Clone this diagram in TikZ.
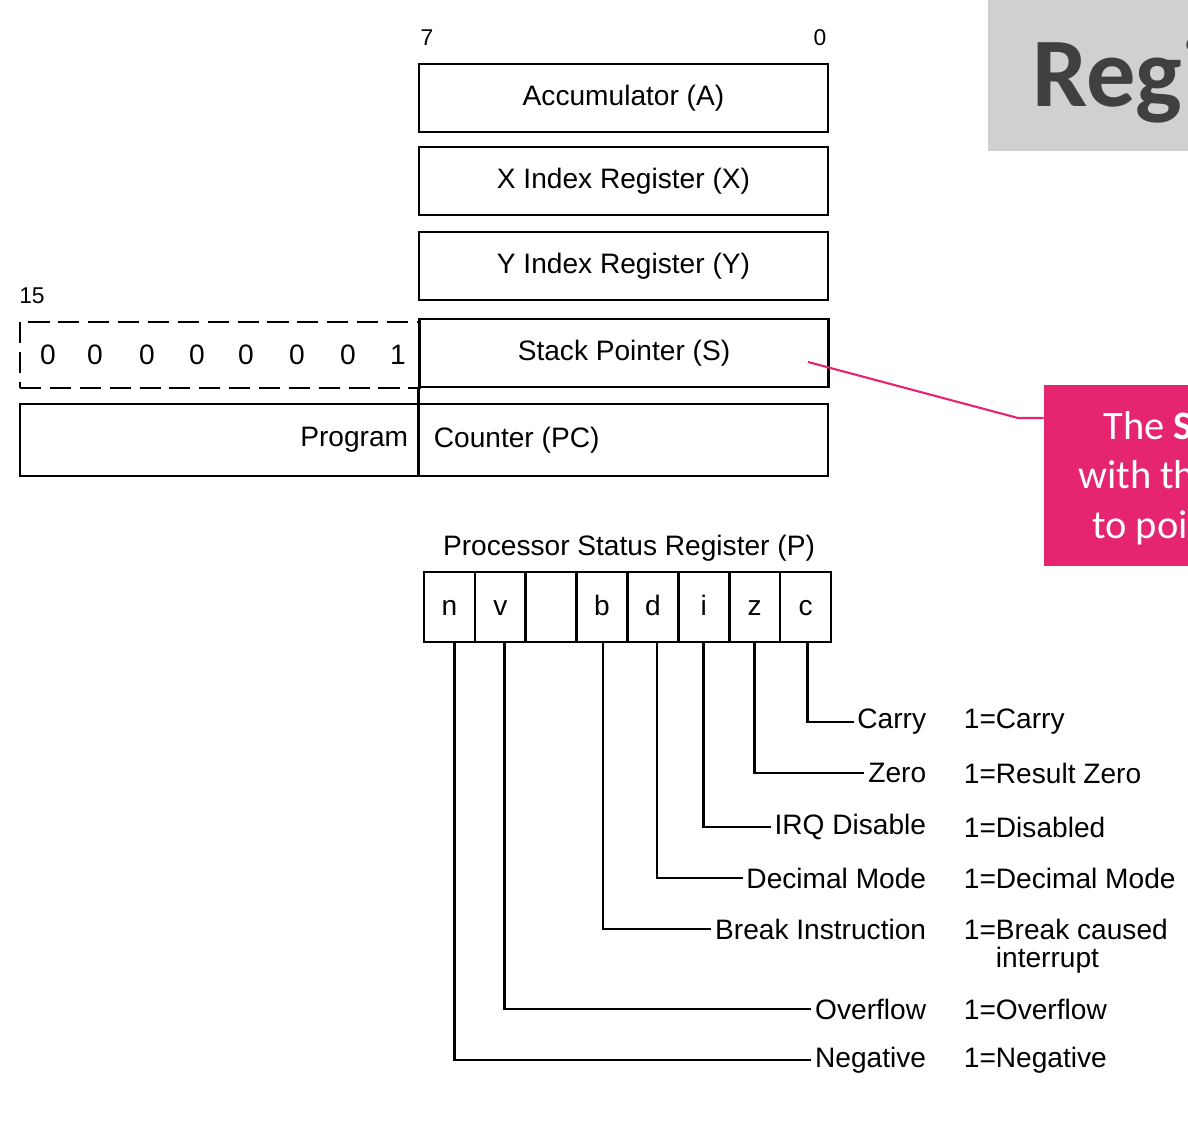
\documentclass[tikz,border=0pt]{standalone}
\usepackage{fontspec}
\setmainfont{Liberation Sans}
\newfontfamily\folienfont{Carlito}
\definecolor{folienpink}{RGB}{229,37,112}
\definecolor{titelgrau}{RGB}{208,207,209}
\definecolor{titeltext}{RGB}{64,64,64}

\begin{document}
\begin{tikzpicture}[x=0.02cm, y=-0.02cm,
    txt/.style={inner sep=2pt, font=\fontsize{16}{19}\selectfont},
    klein/.style={inner sep=0pt, font=\fontsize{13}{15}\selectfont},
    reg/.style={txt, draw, line width=1.6pt, minimum width=8.18cm, minimum height=1.36cm},
    bit/.style={txt, draw, line width=1.5pt, minimum width=1.0175cm, minimum height=1.4cm, text height=10pt, text depth=0pt}]
    \useasboundingbox (0,0) rectangle (1188,1146);
    \clip (0,0) rectangle (1188,1146);

    % Folientitel
    \node[fill=titelgrau, minimum width=4cm, minimum height=3.02cm, inner sep=0pt] (titel) at (1088,75.5) {};
    \node[anchor=base west, inner sep=0pt, text=titeltext, font=\folienfont\bfseries\fontsize{56}{62}\selectfont] (reg) at (1032,106) {Regi};

    % Bitnummern
    \node[klein] (b7) at (427,38) {7};
    \node[klein] (b0) at (820,38) {0};
    \node[klein] (b15) at (32,296) {15};

    % Register
    \node[reg] (acc) at (623.5,98) {Accumulator (A)};
    \node[reg] (xreg) at (623.5,181) {X Index Register (X)};
    \node[reg] (yreg) at (623.5,266) {Y Index Register (Y)};

    % Stack Pointer mit fester Seite 01
    \node[draw, line width=1.6pt, dash pattern=on 12pt off 5pt, minimum width=8cm, minimum height=1.32cm] (page) at (220,355) {};
    \foreach \x/\b in {48/0, 95/0, 147/0, 197/0, 246/0, 297/0, 348/0, 398/1}
        \node[txt] (z\x) at (\x,355) {\b};
    \node[reg, fill=white] (sp) at (624,353) {Stack Pointer (S)};

    % Program Counter
    \node[reg, minimum width=16.16cm, minimum height=1.44cm] (pc) at (424,440) {};
    \draw[line width=1.6pt] (sp.south west) -- (sp.south west |- pc.south);
    \node[txt, anchor=east] (pclo) at (412,440) {Program};
    \node[txt, anchor=west] (pchi) at (430,440) {Counter (PC)};

    % Statusregister
    \node[txt] (ptitel) at (629,548) {Processor Status Register (P)};
    \foreach \b [count=\i] in {n,v,{},b,d,i,z,c}
        \node[bit] (p\i) at ({424+50.875*(\i-0.5)},607) {\b};

    % Flags und Bedeutung
    \foreach \i/\dx/\y/\name/\wert in {8/2/722/Carry/Carry, 7/0/773/Zero/Result Zero,
            6/0/827/IRQ Disable/Disabled, 5/4/878/Decimal Mode/Decimal Mode,
            4/1/929/Break Instruction/Break caused, 2/4/1009/Overflow/Overflow,
            1/5/1060/Negative/Negative} {
        \node[txt, anchor=east] (f\i) at (930,\y) {\name};
        \draw[line width=1.5pt] ([xshift=\dx*0.02cm]p\i.south) |- (f\i.west);
        \node[txt, anchor=west] (w\i) at (960,\y) {1=\wert};
    }
    \node[txt, anchor=base west] (w4b) at ([yshift=-0.56cm]w4.base west) {\phantom{1=}interrupt};

    % Hinweis
    \node[fill=folienpink, minimum width=4cm, minimum height=3.62cm, inner sep=0pt] (note) at (1144,475.5) {};
    \coordinate (spt) at (808,362);
    \coordinate (knick) at (1018,418);
    \draw[folienpink, line width=1.2pt] (spt) -- (knick) -- (knick -| note.west);
    \begin{scope}[every node/.style={anchor=base west, inner sep=0pt, text=white, font=\folienfont\fontsize{23}{28}\selectfont}]
        \node (n1) at (1103,439) {The \textbf{S}};
        \node (n2) at (1078,488) {with th};
        \node (n3) at (1092,538) {to poi};
    \end{scope}
\end{tikzpicture}
\end{document}
